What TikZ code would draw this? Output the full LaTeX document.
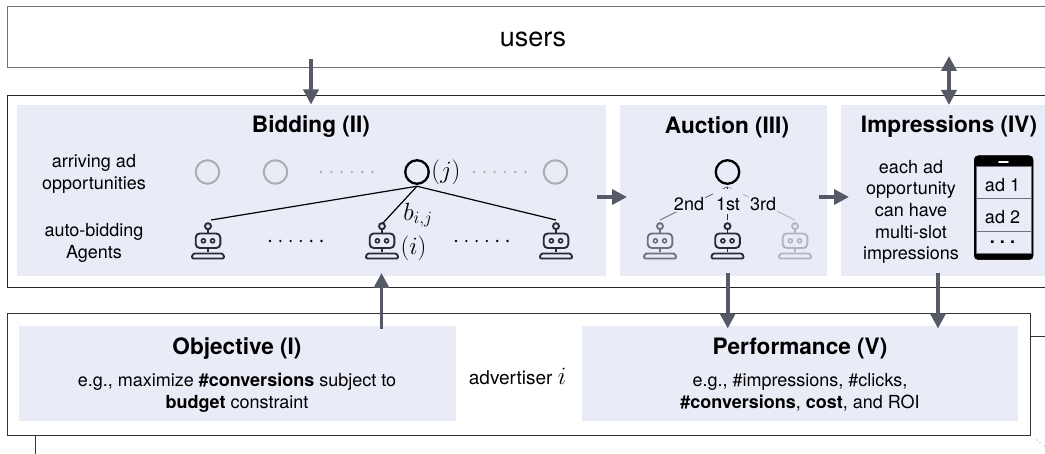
\documentclass[tikz,border=0pt]{standalone}
\usepackage{fontspec}
\setmainfont{TeX Gyre Heros}
\usetikzlibrary{arrows.meta,calc}
\definecolor{panelc}{HTML}{E9EBF7}
\definecolor{arrowc}{HTML}{555A66}
\definecolor{darkc}{HTML}{262B38}
\definecolor{midc}{HTML}{6E717C}
\definecolor{lightc}{HTML}{B3B5BE}
\definecolor{ringc}{HTML}{ABADAC}
\newcommand{\bodyfont}{\fontsize{18}{21.7}\selectfont}
\newcommand{\titlefont}{\fontsize{22.6}{26}\selectfont\bfseries}
\newcommand{\mathsz}{\fontsize{24}{26}\selectfont}
\tikzset{
  frame/.style={draw=#1,line width=1.4pt,fill=white,anchor=north west,inner sep=0pt},
  panel/.style={fill=panelc,anchor=north west,inner sep=0pt},
  flow/.style={draw=arrowc,line width=3.6pt,-{Triangle[width=15pt,length=15pt]}},
  flowboth/.style={draw=arrowc,line width=3.6pt,{Triangle[width=15pt,length=15pt]}-{Triangle[width=15pt,length=15pt]}},
  ttl/.style={font=\titlefont,inner sep=0pt},
  txt/.style={font=\bodyfont,align=center,inner sep=0pt},
  ring/.style={circle,draw=ringc,line width=2pt,minimum size=23.5pt,inner sep=0pt,outer sep=0pt},
  oppo/.style={circle,draw=black,line width=2.3pt,minimum size=23.5pt,inner sep=0pt,outer sep=2.5pt},
  botbox/.style={minimum width=34pt,minimum height=39pt,inner sep=0pt,outer sep=0pt},
  bidline/.style={draw=black,line width=1.2pt},
  rowdots/.style={line width=2.6pt,line cap=round,dash pattern=on 0pt off 10.3pt},
  lab/.style={font=\bodyfont,fill=panelc,inner xsep=1pt,inner ysep=1pt},
  adrow/.style={font=\bodyfont,inner sep=0pt}
}
\newcommand{\botat}[3]{%
  \node[botbox] (#1) at (#2,239.5) {};
  \begin{scope}[shift={(#2,0)},line width=1.9pt]
    \draw[draw=#3] (0,226.2) circle (3pt);
    \draw[draw=#3] (0,229.4) -- (0,233);
    \draw[draw=#3,rounded corners=4pt] (-12.3,233.5) rectangle (12.3,248);
    \draw[draw=#3,line width=1.6pt] (-4.6,240.8) circle (2pt);
    \draw[draw=#3,line width=1.6pt] (4.6,240.8) circle (2pt);
    \draw[draw=#3] (0,248) -- (0,252);
    \draw[draw=#3,line join=round,rounded corners=1.5pt] (-16.5,258.5) -- (-15,253.5) -- (15,253.5) -- (16.5,258.5) -- cycle;
  \end{scope}%
}
\begin{document}
\begin{tikzpicture}[x=1pt,y=-1pt]
\useasboundingbox (0,0) rectangle (1045,454);
\fill[white] (0,0) rectangle (1045,454);
% outer frames (the right side of the two upper ones is cropped by the page)
\node[frame=black!55,minimum width=1050pt,minimum height=61pt] (usersbox) at (7,6) {};
\node[frame=black!85,minimum width=1050pt,minimum height=192pt] (platform) at (7,95) {};
\node[frame=black!80,minimum width=1023pt,minimum height=122pt] (advbox) at (7,313) {};
\draw[black!80,line width=1pt] (35,435) -- (35,454);
\draw[black!80,line width=1pt] (1030,337) -- (1045,337);
\fill[black!45] (1037,440) circle (.6pt) (1040,443) circle (.6pt) (1044,446) circle (.6pt);
% panels
\node[panel,minimum width=589pt,minimum height=171pt] (bidding) at (17,105) {};
\node[panel,minimum width=207pt,minimum height=171pt] (auction) at (620,105) {};
\node[panel,minimum width=210pt,minimum height=171pt] (impress) at (841,105) {};
\node[panel,minimum width=437pt,minimum height=95pt] (objective) at (19,326) {};
\node[panel,minimum width=436pt,minimum height=95pt] (performance) at (582,326) {};
% titles and texts
\node[font=\fontsize{27}{30}\selectfont,inner sep=0pt] (users) at (533,39) {users};
\node[ttl] (t2) at (311,127) {Bidding (II)};
\node[ttl] (t3) at (727,127) {Auction (III)};
\node[ttl] (t4) at (949,127) {Impressions (IV)};
\node[ttl] (t1) at (237,348.5) {Objective (I)};
\node[ttl] (t5) at (800,348.5) {Performance (V)};
\node[txt] (arr) at (94,174) {arriving ad\\opportunities};
\node[txt] (agt) at (94,243) {auto-bidding\\Agents};
\node[txt] (imptxt) at (911,212) {each ad\\opportunity\\can have\\multi-slot\\impressions};
\node[txt] (objtxt) at (237,393) {e.g., maximize \textbf{\#conversions} subject to\\\textbf{budget} constraint};
\node[txt] (perftxt) at (800,392) {e.g., \#impressions, \#clicks,\\\textbf{\#conversions}, \textbf{cost}, and ROI};
\node[font=\fontsize{19}{21}\selectfont,inner sep=0pt] (advl) at (517.5,376) {advertiser \mathsz$i$};
% opportunities
\node[ring] (o1) at (207.5,172) {};
\node[ring] (o2) at (275.5,172) {};
\node[oppo] (oj) at (417,172) {};
\node[ring] (o4) at (555.5,172) {};
\coordinate (d1a) at (321,172); \coordinate (d1b) at (374,172);
\coordinate (d2a) at (474,172); \coordinate (d2b) at (527,172);
\draw[rowdots,draw=ringc] (d1a) -- (d1b);
\draw[rowdots,draw=ringc] (d2a) -- (d2b);
\node[font=\mathsz,inner sep=0pt] (jl) at (446,172) {$(j)$};
% agents
\botat{r1}{208}{darkc}
\botat{r2}{382}{darkc}
\botat{r3}{556}{darkc}
\coordinate (d3a) at (270,241); \coordinate (d3b) at (323,241);
\coordinate (d4a) at (456,241); \coordinate (d4b) at (509,241);
\draw[rowdots,draw=black] (d3a) -- (d3b);
\draw[rowdots,draw=black] (d4a) -- (d4b);
\draw[bidline] (oj.south) -- ($(r1.north)+(3,0)$);
\draw[bidline] (oj.south) -- ($(r2.north)+(1,3)$);
\draw[bidline] (oj.south) -- (r3.north);
\node[font=\fontsize{25}{27}\selectfont,inner sep=0pt] (bij) at (418,215) {$b_{i,j}$};
\node[font=\mathsz,inner sep=0pt] (il) at (413.5,248) {$(i)$};
% auction
\node[oppo,outer sep=3pt] (oa) at (727.5,172) {};
\botat{a2}{660}{midc}
\botat{a1}{727.5}{darkc}
\botat{a3}{795}{lightc}
\draw[midc,line width=.9pt] (oa.south) -- (a2.north);
\draw[darkc,line width=.9pt] (oa.south) -- (a1.north);
\draw[lightc,line width=.9pt] (oa.south) -- (a3.north);
\fill[panelc] (713,188.6) rectangle (743,214);
\node[lab] (l2) at (689,204) {2nd};
\node[lab] (l1) at (728,204) {1st};
\node[lab] (l3) at (763,204) {3rd};
% phone
\node[draw=black,fill=black,rounded corners=4pt,minimum width=59pt,minimum height=104pt,inner sep=0pt,anchor=north west] (phone) at (974,155.5) {};
\node[fill=panelc,draw=midc,line width=.8pt,minimum width=55pt,minimum height=87pt,inner sep=0pt,anchor=north west] (screen) at (976,166) {};
\draw[midc,line width=1pt] (976,198.5) -- (1031,198.5) (976,231.5) -- (1031,231.5);
\draw[white,line width=1.6pt,line cap=round] (999,162) -- (1008,162);
\node[adrow] (ad1) at (1002.5,185) {ad 1};
\node[adrow] (ad2) at (1002.5,217) {ad 2};
\node[adrow] (ad3) at (1002.5,242) {\textbf{.~.~.}};
% flows
\coordinate (u1) at (311,59); \coordinate (u1e) at (311,104.5);
\coordinate (u2) at (949,56); \coordinate (u2e) at (949,105);
\coordinate (b1) at (381.5,329); \coordinate (b1e) at (381.5,273);
\coordinate (c1) at (727.7,273); \coordinate (c1e) at (727.7,328.5);
\coordinate (c2) at (938,273); \coordinate (c2e) at (938,328.5);
\coordinate (h1) at (597,197); \coordinate (h1e) at (627,197);
\coordinate (h2) at (819,197); \coordinate (h2e) at (849,197);
\draw[flow] (u1) -- (u1e);
\draw[flowboth] (u2) -- (u2e);
\draw[flow] (b1) -- (b1e);
\draw[flow] (c1) -- (c1e);
\draw[flow] (c2) -- (c2e);
\draw[flow] (h1) -- (h1e);
\draw[flow] (h2) -- (h2e);
\end{tikzpicture}
\end{document}
